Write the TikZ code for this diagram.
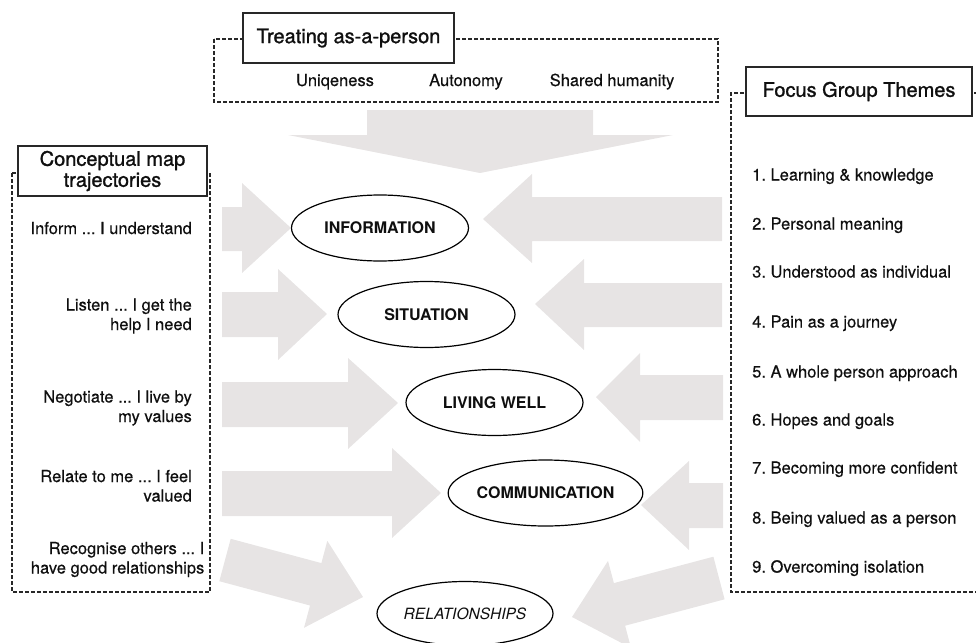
\documentclass[tikz,border=0pt]{standalone}
\usepackage{fontspec}
\setmainfont{TeX Gyre Heros}
\usetikzlibrary{shapes.geometric}
\definecolor{arrowgray}{RGB}{231,228,228}
\definecolor{ink}{RGB}{15,15,15}
\definecolor{boxline}{RGB}{40,40,40}
\frenchspacing
\tikzset{
  bigarrow/.style={fill=arrowgray, draw=none},
  dashbox/.style={draw=boxline, line width=1.2pt, dash pattern=on 4pt off 2pt},
  titlebox/.style={draw=boxline, line width=1.2pt, fill=white, inner sep=0pt, text=ink, font=\addfontfeature{FakeBold=1.2}\fontsize{20}{22}\selectfont},
  item/.style={inner sep=0pt, text=ink, font=\addfontfeature{FakeBold=0.4}\fontsize{16.5}{19.5}\selectfont},
  concept/.style={ellipse, draw=black, line width=1.2pt, fill=white, minimum width=177pt, minimum height=66pt, inner sep=0pt, text=ink, font=\bfseries\fontsize{16}{18}\selectfont},
}
\begin{document}
\frenchspacing
\begin{tikzpicture}[x=1pt,y=-1pt]
\useasboundingbox (0,0) rectangle (976,642);
\clip (0,0) rectangle (976,642);

% big grey arrows
\fill[bigarrow] (367,110) -- (593,110) -- (593,135) -- (673,135) -- (480,173) -- (288,135) -- (367,135) -- cycle;
% from left
\fill[bigarrow] (222,207) -- (242,207) -- (242,183) -- (291,228) -- (242,273) -- (242,251) -- (222,251) -- cycle;
\fill[bigarrow] (222,292) -- (278,292) -- (278,269) -- (327,314) -- (278,360) -- (278,337) -- (222,337) -- cycle;
\fill[bigarrow] (222,382) -- (348,382) -- (348,358) -- (398,403) -- (348,449) -- (348,427) -- (222,427) -- cycle;
\fill[bigarrow] (222,471) -- (392,471) -- (392,448) -- (441,493) -- (392,538) -- (392,516) -- (222,516) -- cycle;
\fill[bigarrow] (230.7,538.8) -- (321.4,563.1) -- (327.3,540.8) -- (363,597) -- (304,627.8) -- (310,605.5) -- (219.3,581.2) -- cycle;
% from right
\fill[bigarrow] (722,197) -- (532,197) -- (532,174) -- (483,219) -- (532,263) -- (532,241) -- (722,241) -- cycle;
\fill[bigarrow] (722,283) -- (584,283) -- (584,259) -- (535,304) -- (584,350) -- (584,327) -- (722,327) -- cycle;
\fill[bigarrow] (723,375) -- (640,375) -- (640,353) -- (596,397) -- (640,442) -- (640,420) -- (723,420) -- cycle;
\fill[bigarrow] (723,483) -- (689,483) -- (689,461) -- (641,505) -- (689,550) -- (689,528) -- (723,528) -- cycle;
\fill[bigarrow] (713.4,556.7) -- (613.9,583.1) -- (608,560.9) -- (572,617) -- (631,647.9) -- (625.1,625.7) -- (724.6,599.3) -- cycle;

% dashed frames
\draw[dashbox] (214,39) rectangle (718,102);
\draw[dashbox] (12,173) rectangle (210,592);
\draw[dashbox] (978,93) -| (731,592) -- (978,592);

% title boxes
\node[titlebox, minimum width=211pt, minimum height=50pt] (ttitle) at (348.5,38) {Treating as-a-person};
\node[titlebox, minimum width=189pt, minimum height=50pt, align=center, font=\addfontfeature{FakeBold=1.2}\fontsize{20}{21}\selectfont] (ltitle) at (112.5,171) {Conceptual map\\trajectories};
\node[titlebox, minimum width=226pt, minimum height=49pt] (rtitle) at (859,91.5) {Focus Group Themes};

% top items
\node[item, anchor=base] (uniq) at (335,86) {Uniqeness};
\node[item, anchor=base] (auto) at (466,86) {Autonomy};
\node[item, anchor=base] (shum) at (612,86) {Shared humanity};

% left items (base = baseline of last line)
\node[item, anchor=base east] (l1) at (192,234) {Inform ... I understand};
\node[item, anchor=base east, align=right] (l2) at (192,330) {Listen ... I get the\\help I need};
\node[item, anchor=base east, align=right] (l3) at (192,422) {Negotiate ... I live by\\my values};
\node[item, anchor=base east, align=right] (l4) at (192,501.5) {Relate to me ... I feel\\valued};
\node[item, anchor=base east, align=right] (l5) at (204.5,573.5) {Recognise others ... I\\have good relationships};

% right items
\node[item, anchor=base west] (r1) at (752,180.5) {1. Learning \& knowledge};
\node[item, anchor=base west] (r2) at (752,229.5) {2. Personal meaning};
\node[item, anchor=base west] (r3) at (752,277.5) {3. Understood as individual};
\node[item, anchor=base west] (r4) at (752,327.5) {4. Pain as a journey};
\node[item, anchor=base west] (r5) at (752,377.5) {5. A whole person approach};
\node[item, anchor=base west] (r6) at (752,425.5) {6. Hopes and goals};
\node[item, anchor=base west] (r7) at (752,473.5) {7. Becoming more confident};
\node[item, anchor=base west] (r8) at (752,523.5) {8. Being valued as a person};
\node[item, anchor=base west] (r9) at (752,572.5) {9. Overcoming isolation};

% concepts
\node[concept] (info) at (380,228) {INFORMATION};
\node[concept] (situ) at (426.5,314.5) {SITUATION};
\node[concept] (live) at (494.5,402.5) {LIVING WELL};
\node[concept] (comm) at (545.5,493) {COMMUNICATION};
\node[concept, minimum width=176pt, minimum height=64pt, font=\itshape\fontsize{15.5}{18}\selectfont] (rel) at (465,613.5) {RELATIONSHIPS};
\end{tikzpicture}
\end{document}
